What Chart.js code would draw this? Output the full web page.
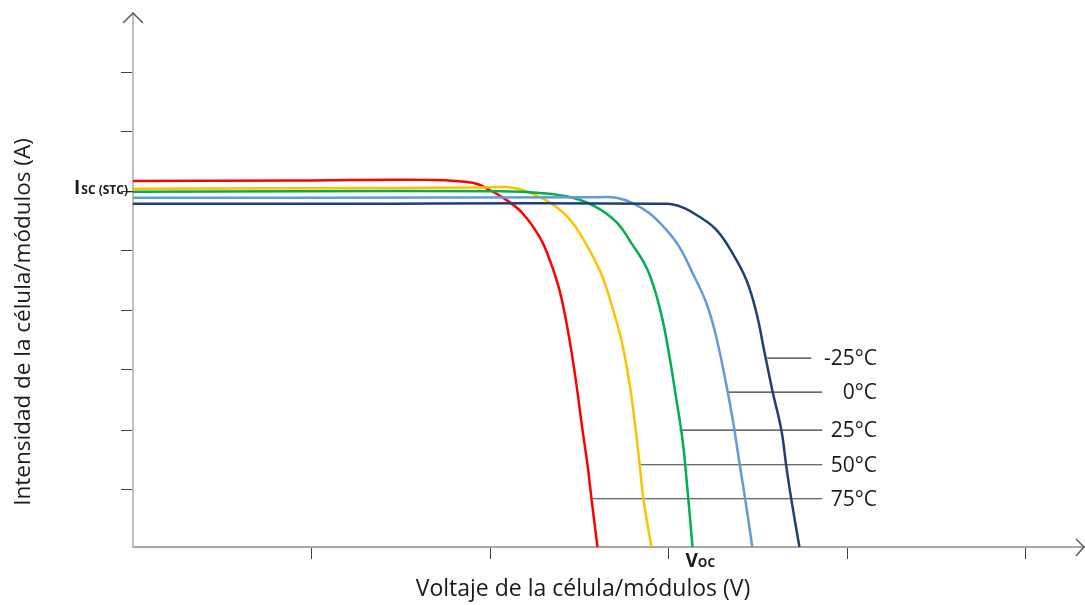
<!DOCTYPE html>
<html>
<head>
<meta charset="utf-8">
<script src="https://cdn.jsdelivr.net/npm/chart.js@4.4.0/dist/chart.umd.min.js"></script>
<style>
    html, body { margin: 0; padding: 0; background: #fff; }
    #wrap { width: 1085px; height: 605px; }
</style>
</head>
<body>
<div id="wrap"><canvas id="myChart" width="1085" height="605"></canvas></div>
<script>
// curva I-V por temperatura (voltaje en V, intensidad en A, unidades relativas)
var temps = ['-25°C', '0°C', '25°C', '50°C', '75°C'];

var v_m25 = [0, 9.35, 29.88, 30.78, 31.73, 32.68, 33.58, 34.36, 34.92, 35.34, 35.81, 36.32, 36.60, 36.88, 37.33];
var i_m25 = [5.76, 5.76, 5.76, 5.70, 5.54, 5.32, 4.93, 4.48, 3.93, 3.32, 2.63, 1.96, 1.34, 0.79, 0];

var v_0 = [0, 9.35, 26.13, 27.08, 27.98, 28.93, 29.88, 30.61, 31.34, 32.12, 32.65, 33.25, 33.69, 33.97, 34.30, 34.69];
var i_0 = [5.86, 5.86, 5.87, 5.86, 5.77, 5.60, 5.32, 5.03, 4.60, 4.09, 3.55, 2.70, 1.96, 1.41, 0.79, 0];

var v_25 = [0, 9.35, 20.54, 22.78, 24.62, 25.97, 27.08, 27.98, 28.82, 29.49, 29.95, 30.44, 30.78, 31.06, 31.34];
var i_25 = [5.96, 5.97, 5.97, 5.94, 5.86, 5.70, 5.45, 5.07, 4.65, 4.03, 3.37, 2.47, 1.80, 0.96, 0];

var v_50 = [0, 9.35, 19.42, 20.93, 21.82, 22.78, 23.73, 24.62, 25.57, 26.30, 26.86, 27.36, 27.81, 28.09, 28.37, 28.60, 29.04];
var i_50 = [6.01, 6.02, 6.03, 6.04, 5.99, 5.87, 5.70, 5.44, 4.98, 4.53, 4.01, 3.47, 2.75, 2.13, 1.41, 0.79, 0];

var v_75 = [0, 9.35, 16.62, 19.03, 19.98, 20.93, 21.82, 22.78, 23.34, 23.89, 24.35, 24.78, 25.18, 25.46, 25.69, 26.02];
var i_75 = [6.14, 6.15, 6.16, 6.11, 5.99, 5.82, 5.60, 5.20, 4.82, 4.31, 3.65, 2.85, 1.96, 1.38, 0.79, 0];

// lineas de referencia de las etiquetas
var leaderY    = [3.17, 2.60, 1.96, 1.38, 0.81];
var leaderFrom = [35.53, 33.30, 30.61, 28.37, 25.74];
var leaderTo   = [38.00, 38.61, 38.61, 38.61, 38.61];

var xTicks = [10, 20, 30, 40, 50];
var yTicks = [0.96, 1.96, 2.97, 3.96, 4.97, 5.97, 6.98, 7.97];
var xMax = 53.27;
var yMax = 8.96;

var iscStc = 5.96;   // Isc (STC) = 25°C
var vocStc = 31.34;

var volts = [v_m25, v_0, v_25, v_50, v_75];
var amps  = [i_m25, i_0, i_25, i_50, i_75];
var lineColors = ['#203f72', '#639ad8', '#00b050', '#ffc000', '#ff0000'];

function toPoints(xs, ys) {
    return xs.map(function(x, k) { return {x: x, y: ys[k]}; });
}

var datasets = [];
for (var k = 0; k < temps.length; k++) {
    datasets.push({
        label: temps[k],
        data: toPoints(volts[k], amps[k]),
        showLine: true,
        borderColor: lineColors[k],
        borderWidth: 2.5,
        pointRadius: 0,
        tension: 0.4
    });
}
for (var k = 0; k < temps.length; k++) {
    datasets.push({
        label: 'leader ' + temps[k],
        data: [{x: leaderFrom[k], y: leaderY[k]}, {x: leaderTo[k], y: leaderY[k]}],
        showLine: true,
        borderColor: '#3a3a3a',
        borderWidth: 1.2,
        pointRadius: 0
    });
}

var FONT = '"Open Sans", "Noto Sans", sans-serif';

var decor = {
    id: 'decor',
    afterDraw: function(chart) {
        var c = chart.ctx;
        var a = chart.chartArea;
        var xs = chart.scales.x, ys = chart.scales.y;
        c.save();

        // flechas de los ejes
        c.strokeStyle = '#595959';
        c.lineWidth = 1.5;
        c.beginPath();
        c.moveTo(a.left - 10, a.top + 10);
        c.lineTo(a.left, a.top);
        c.lineTo(a.left + 10, a.top + 10);
        c.moveTo(a.right - 8, a.bottom - 8);
        c.lineTo(a.right, a.bottom);
        c.lineTo(a.right - 8, a.bottom + 9);
        c.stroke();

        c.fillStyle = '#1a1a1a';

        // etiquetas de temperatura
        c.font = '21px ' + FONT;
        c.textAlign = 'right';
        c.textBaseline = 'alphabetic';
        for (var k = 0; k < temps.length; k++) {
            c.fillText(temps[k], 877, ys.getPixelForValue(leaderY[k]) + 7);
        }

        // Isc (STC)
        var yi = ys.getPixelForValue(iscStc);
        c.textAlign = 'left';
        c.font = 'bold 19px ' + FONT;
        c.fillText('I', 74, yi + 2);
        var w = c.measureText('I').width;
        c.font = 'bold 12px ' + FONT;
        c.fillText('SC (STC)', 74 + w + 1, yi + 2);
        c.strokeStyle = '#1a1a1a';
        c.lineWidth = 1;
        c.beginPath();
        c.moveTo(127, yi);
        c.lineTo(a.left, yi);
        c.stroke();

        // Voc
        var xv = xs.getPixelForValue(vocStc);
        c.font = 'bold 19px ' + FONT;
        c.fillText('V', xv - 7, 567);
        w = c.measureText('V').width;
        c.font = 'bold 12px ' + FONT;
        c.fillText('OC', xv - 7 + w, 567);

        // titulos de los ejes
        c.font = '23px ' + FONT;
        c.textAlign = 'center';
        c.fillText('Voltaje de la célula/módulos (V)', 583, 596);
        c.font = '22.5px ' + FONT;
        c.translate(30, 322);
        c.rotate(-Math.PI / 2);
        c.fillText('Intensidad de la célula/módulos (A)', 0, 0);

        c.restore();
    }
};

var ctx = document.getElementById('myChart').getContext('2d');

var myChart = new Chart(ctx, {
    type: 'scatter',
    data: { datasets: datasets },
    options: {
        responsive: false,
        animation: false,
        layout: { padding: { left: 121, top: 13, right: 1, bottom: 46 } },
        plugins: {
            legend: { display: false },
            tooltip: { enabled: false }
        },
        scales: {
            x: {
                type: 'linear',
                min: 0,
                max: xMax,
                afterBuildTicks: function(s) {
                    s.ticks = xTicks.map(function(v) { return {value: v}; });
                },
                ticks: { display: false },
                grid: { drawOnChartArea: false, drawTicks: true, tickLength: 12, color: '#404040', lineWidth: 1 },
                border: { display: true, color: '#a6a6a6', width: 2 }
            },
            y: {
                type: 'linear',
                min: 0,
                max: yMax,
                afterBuildTicks: function(s) {
                    s.ticks = yTicks.map(function(v) { return {value: v}; });
                },
                ticks: { display: false },
                grid: { drawOnChartArea: false, drawTicks: true, tickLength: 12, color: '#404040', lineWidth: 1 },
                border: { display: true, color: '#bfbfbf', width: 2 }
            }
        }
    },
    plugins: [decor]
});
</script>
</body>
</html>
